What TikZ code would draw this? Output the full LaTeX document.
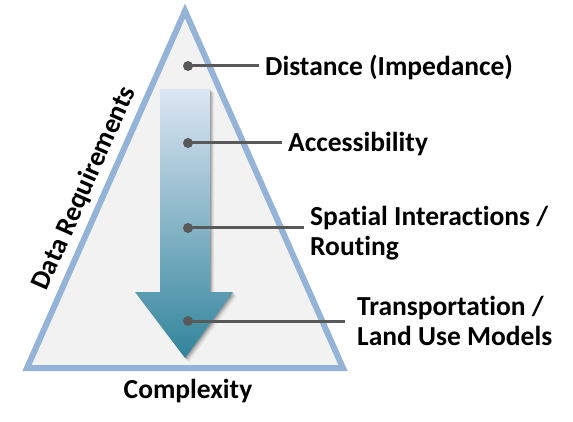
\documentclass[tikz,border=0pt]{standalone}
\usepackage{fontspec}
\setmainfont{Carlito}[Ligatures=NoCommon]
\definecolor{triblue}{HTML}{95B3D7}
\definecolor{trifill}{HTML}{F2F2F2}
\definecolor{dotgray}{HTML}{595959}
\definecolor{arrtop}{HTML}{DDE6F3}
\definecolor{arrbot}{HTML}{31849B}
\begin{document}
\begin{tikzpicture}[x=1pt,y=-1pt,
  lbl/.style={font=\fontsize{27.5}{30}\selectfont\bfseries, inner xsep=6pt, inner ysep=0pt, align=left, anchor=west, text=black},
  dotmark/.style={circle, fill=dotgray, inner sep=0pt, minimum size=10pt},
  leader/.style={draw=dotgray, line width=3pt}]
\useasboundingbox (0,0) rectangle (573,422);
% triangle
\coordinate (apex) at (185,11);
\coordinate (bl) at (27,368);
\coordinate (br) at (343,368);
\draw[triblue, fill=trifill, line width=6pt, line join=miter] (apex) -- (bl) -- (br) -- cycle;
\path (bl) -- (apex) node[pos=0.48, sloped, above=8pt, inner sep=0pt, font=\fontsize{27.5}{30}\selectfont\bfseries] (dreq) {Data Requirements};
% arrow shadow
\foreach \o/\a in {1/0.16,2/0.12,3/0.08,4/0.05}{
  \fill[black, opacity=\a] (160+\o,89+\o) -- (210+\o,89+\o) -- (210+\o,292+\o) -- (233+\o,292+\o) -- (185+\o,358+\o) -- (135+\o,292+\o) -- (160+\o,292+\o) -- cycle;
}
% arrow
\shade[top color=arrtop, bottom color=arrbot] (160,89) -- (210,89) -- (210,292) -- (233,292) -- (185,358) -- (135,292) -- (160,292) -- cycle;
% dots
\node[dotmark] (d1) at (188,66) {};
\node[dotmark] (d2) at (188,143) {};
\node[dotmark] (d3) at (188,228) {};
\node[dotmark] (d4) at (188,321) {};
% labels
\node[lbl] (t1) at (259,67) {Distance (Impedance)};
\node[lbl] (t2) at (282,144) {Accessibility};
\node[lbl] (t3) at (304,233) {Spatial Interactions /\\Routing};
\node[lbl] (t4) at (351,321) {Transportation /\\Land Use Models};
\draw[leader] (d1.center) -- (d1.center -| t1.west);
\draw[leader] (d2.center) -- (d2.center -| t2.west);
\draw[leader] (d3.center) -- (d3.center -| t3.west);
\draw[leader, shorten >=6pt] (d4.center) -- (d4.center -| t4.west);
\node[font=\fontsize{27.5}{30}\selectfont\bfseries, inner sep=0pt] (cx) at (188,391) {Complexity};
\end{tikzpicture}
\end{document}
